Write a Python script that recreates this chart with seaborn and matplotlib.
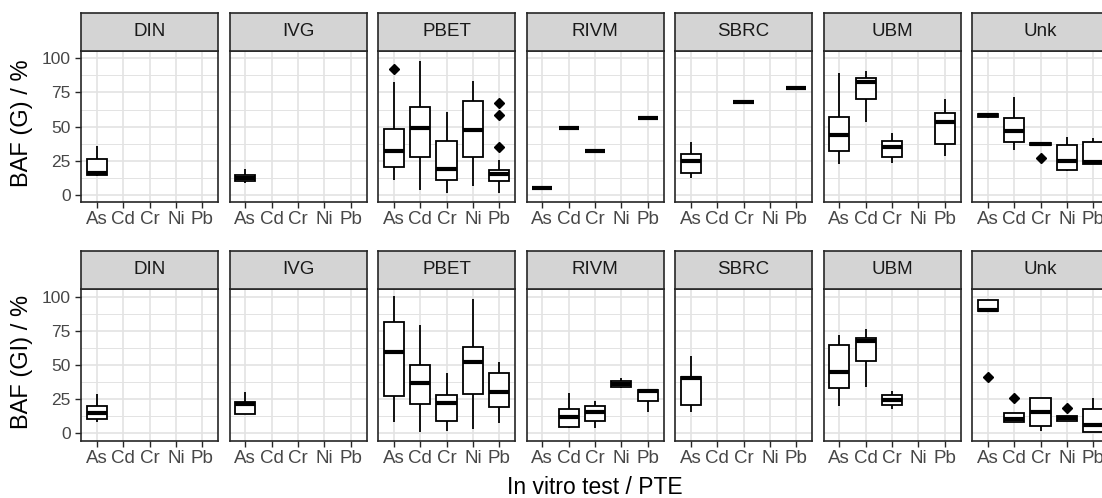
import numpy as np
import pandas as pd
import matplotlib
matplotlib.use("Agg")
import matplotlib.pyplot as plt
import seaborn as sns

TESTS = ["DIN", "IVG", "PBET", "RIVM", "SBRC", "UBM", "Unk"]
PTES = ["As", "Cd", "Cr", "Ni", "Pb"]
Y_LABELS = ["BAF (G) / %", "BAF (GI) / %"]
Y_TICKS = [0, 25, 50, 75, 100]
X_TITLE = "In vitro test / PTE"

# (test, pte, whisker_low, q1, median, q3, whisker_high, outliers)
STATS_G = [
    ("DIN", "As", 14.0, 14.5, 16.0, 26.0, 36.0, []),
    ("IVG", "As", 9.0, 10.5, 12.5, 14.5, 19.0, []),
    ("PBET", "As", 11.0, 20.7, 32.4, 48.0, 83.0, [92.0]),
    ("PBET", "Cd", 3.7, 28.0, 49.0, 64.6, 98.0, []),
    ("PBET", "Cr", 1.7, 11.0, 18.8, 39.3, 60.7, []),
    ("PBET", "Ni", 6.8, 28.0, 47.8, 68.8, 83.7, []),
    ("PBET", "Pb", 1.7, 10.2, 15.4, 18.3, 25.6, [34.9, 58.8, 67.6]),
    ("RIVM", "As", 5.4, 5.4, 5.4, 5.4, 5.4, []),
    ("RIVM", "Cd", 49.0, 49.0, 49.0, 49.0, 49.0, []),
    ("RIVM", "Cr", 32.2, 32.2, 32.2, 32.2, 32.2, []),
    ("RIVM", "Pb", 56.3, 56.3, 56.3, 56.3, 56.3, []),
    ("SBRC", "As", 12.2, 15.9, 25.1, 30.0, 38.5, []),
    ("SBRC", "Cr", 67.8, 67.8, 67.8, 67.8, 67.8, []),
    ("SBRC", "Pb", 78.0, 78.0, 78.0, 78.0, 78.0, []),
    ("UBM", "As", 22.4, 32.2, 43.9, 57.3, 89.0, []),
    ("UBM", "Cd", 53.7, 70.5, 82.9, 85.4, 91.0, []),
    ("UBM", "Cr", 23.2, 27.8, 34.9, 39.8, 45.1, []),
    ("UBM", "Pb", 28.5, 37.1, 53.2, 60.2, 70.2, []),
    ("Unk", "As", 56.0, 57.2, 58.3, 59.3, 59.5, []),
    ("Unk", "Cd", 32.9, 38.5, 46.8, 56.1, 71.5, []),
    ("Unk", "Cr", 36.8, 36.8, 37.5, 38.2, 38.2, [26.8]),
    ("Unk", "Ni", 17.6, 18.3, 24.9, 36.6, 42.7, []),
    ("Unk", "Pb", 22.7, 22.7, 24.4, 38.5, 41.5, []),
]

STATS_GI = [
    ("DIN", "As", 8.1, 10.3, 15.2, 19.9, 28.7, []),
    ("IVG", "As", 14.0, 14.5, 21.8, 22.8, 30.4, []),
    ("PBET", "As", 8.6, 27.5, 59.6, 81.6, 101.0, []),
    ("PBET", "Cd", 1.2, 21.6, 36.8, 50.2, 79.9, []),
    ("PBET", "Cr", 1.5, 9.1, 22.1, 28.2, 44.1, []),
    ("PBET", "Ni", 3.4, 28.9, 52.5, 63.7, 98.8, []),
    ("PBET", "Pb", 7.8, 19.6, 30.1, 44.1, 52.5, []),
    ("RIVM", "Cd", 3.7, 4.9, 12.0, 17.6, 29.4, []),
    ("RIVM", "Cr", 3.7, 9.1, 15.9, 19.9, 24.0, []),
    ("RIVM", "Ni", 33.6, 34.1, 36.3, 38.5, 40.9, []),
    ("RIVM", "Pb", 15.9, 23.5, 31.1, 32.1, 32.1, []),
    ("SBRC", "As", 15.9, 20.8, 40.9, 41.7, 56.9, []),
    ("UBM", "As", 20.3, 33.3, 44.9, 64.7, 72.3, []),
    ("UBM", "Cd", 33.8, 52.9, 68.1, 70.3, 76.5, []),
    ("UBM", "Cr", 18.1, 20.6, 24.3, 28.2, 31.4, []),
    ("Unk", "As", 90.0, 90.0, 90.7, 98.3, 98.3, [41.2]),
    ("Unk", "Cd", 8.1, 8.1, 10.3, 14.7, 14.7, [25.7]),
    ("Unk", "Cr", 1.9, 5.6, 15.9, 26.2, 26.2, []),
    ("Unk", "Ni", 9.3, 9.3, 11.0, 12.7, 12.7, [18.5]),
    ("Unk", "Pb", 0.7, 0.7, 6.1, 17.6, 26.2, []),
]


def expand(lo, q1, med, q3, hi, fl):
    """Rebuild a sample whose box-plot summary equals the read-off statistics."""
    low = sorted(v for v in fl if v < med)
    high = sorted(v for v in fl if v > med)
    a, b = len(low), len(high)
    m = max(a, b) + 1
    vals = (low + [lo] + [q1] * (m - a) + [med] * m
            + [q3] * (2 * m - 1 - b) + [hi] + high)
    return vals


rows = []
for phase, stats in (("G", STATS_G), ("GI", STATS_GI)):
    for test, pte, lo, q1, med, q3, hi, fl in stats:
        for v in expand(lo, q1, med, q3, hi, fl):
            rows.append({"phase": phase, "test": test, "pte": pte, "value": v})
df = pd.DataFrame(rows)

sns.set_theme(style="white")
plt.rcParams["font.family"] = ["Liberation Sans", "DejaVu Sans"]

W, H = 1102, 498
fig = plt.figure(figsize=(W / 100, H / 100), dpi=100)

panel_left0 = 81
pitch = 148.5
panel_w = 137
rows_geom = [
    # strip_top, panel_top, panel_bottom, ylim
    (13, 51, 202, (-5.1, 105.3)),
    (251, 289, 441, (-5.7, 106.1)),
]
BORDER = "#262626"
GRID = "#E3E3E3"
STRIP = "#D4D4D4"
TICKTXT = "#474747"

for r, phase in enumerate(["G", "GI"]):
    s_top, p_top, p_bot, ylim = rows_geom[r]
    for c, test in enumerate(TESTS):
        x0 = panel_left0 + c * pitch
        ax = fig.add_axes([x0 / W, 1 - p_bot / H, panel_w / W, (p_bot - p_top) / H])
        sub = df[(df.phase == phase) & (df.test == test)]
        sns.boxplot(
            data=sub, x="pte", y="value", order=PTES, ax=ax,
            width=0.76, color="white", linecolor="black", linewidth=1.3,
            fliersize=5, whis=1.5, saturation=1,
            medianprops={"linewidth": 3.0, "solid_capstyle": "butt"},
            capprops={"visible": False},
            flierprops={"marker": "D", "markerfacecolor": "black",
                        "markeredgecolor": "black"},
        )
        ax.set_xlim(-0.6, 4.6)
        ax.set_ylim(*ylim)
        ax.set_yticks(Y_TICKS)
        ax.set_yticks([12.5, 37.5, 62.5, 87.5], minor=True)
        ax.set_axisbelow(True)
        ax.grid(True, which="major", color=GRID, linewidth=1.2)
        ax.grid(True, which="minor", axis="y", color=GRID, linewidth=0.7)
        for sp in ax.spines.values():
            sp.set_visible(True)
            sp.set_color(BORDER)
            sp.set_linewidth(1.2)
        ax.set_xlabel("")
        ax.set_ylabel("")
        ax.tick_params(axis="x", which="major", bottom=True, length=4.5, width=1,
                       color=BORDER, labelsize=13.5, labelcolor=TICKTXT, pad=2)
        ax.tick_params(axis="y", which="minor", left=False)
        if c == 0:
            ax.set_yticklabels([str(t) for t in Y_TICKS])
            ax.tick_params(axis="y", which="major", left=True, length=4.5, width=1,
                           color=BORDER, labelsize=12.5, labelcolor=TICKTXT, pad=3)
        else:
            ax.tick_params(axis="y", which="major", left=False, labelleft=False)

        sax = fig.add_axes([x0 / W, 1 - p_top / H, panel_w / W, (p_top - s_top) / H])
        sax.set_facecolor(STRIP)
        sax.set_xticks([])
        sax.set_yticks([])
        for sp in sax.spines.values():
            sp.set_visible(True)
            sp.set_color(BORDER)
            sp.set_linewidth(1.2)
        sax.text(0.5, 0.5, test, ha="center", va="center", fontsize=13.5,
                 color="#1A1A1A", transform=sax.transAxes)

    fig.text(22 / W, 1 - ((p_top + p_bot) / 2 - 3) / H, Y_LABELS[r], rotation=90,
             ha="center", va="center", fontsize=17, color="black")

fig.text(595 / W, 1 - 494 / H, X_TITLE, ha="center", va="baseline",
         fontsize=16.5, color="black")

fig.savefig("out.png", dpi=100)
